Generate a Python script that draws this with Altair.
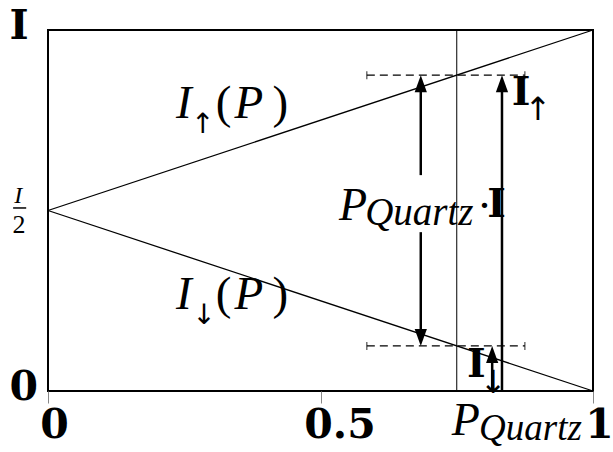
import altair as alt
import pandas as pd

# Degree of polarization P on the x axis, the two spin intensities on y
P = [0.0, 1.0]
I_UP = [0.5, 1.0]
I_DOWN = [0.5, 0.0]

P_QUARTZ = 0.75
I_UP_AT_Q = 0.875
I_DOWN_AT_Q = 0.125

X_TICKS = [0.0, 0.5, 1.0]
X_TICK_LABELS = ["0", "0.5", "1"]
Y_TICKS = [0.0, 1.0]
Y_TICK_LABELS = ["0", "I"]

# Dashed guides at the two intensities read at P_Quartz
DASH_LEVELS = [I_UP_AT_Q, I_DOWN_AT_Q]
DASH_FROM = 0.585
DASH_TO = 0.875

# Arrows: x position, tail, tip
ARROW_X = [0.684, 0.684, 0.833, 0.815]
ARROW_TAIL = [0.598, 0.44, 0.0, 0.0]
ARROW_TIP = [I_UP_AT_Q, I_DOWN_AT_Q, I_UP_AT_Q, I_DOWN_AT_Q]

W, H = 545, 361

XS = alt.Scale(domain=[0, 1], nice=False, zero=False)
YS = alt.Scale(domain=[0, 1], nice=False, zero=False)


def label_expr(values, texts):
    parts = [f"datum.value == {v} ? '{t}'" for v, t in zip(values, texts)]
    return " : ".join(parts) + " : ''"


AX_X = alt.Axis(
    values=X_TICKS, labelExpr=label_expr(X_TICKS, X_TICK_LABELS),
    title=None, domain=False, grid=False, ticks=True, tickSize=12,
    tickColor="#888888", tickWidth=1, labelFont="DejaVu Serif",
    labelFontWeight="bold", labelFontSize=41, labelColor="black",
    labelBaseline="alphabetic", labelAlign="center", labelPadding=34,
    labelOffset={"condition": {"test": "datum.value == 0.5", "value": 19}, "value": 6},
    labelOverlap=False, labelFlush=False)
AX_Y = alt.Axis(
    values=Y_TICKS, labelExpr=label_expr(Y_TICKS, Y_TICK_LABELS),
    title=None, domain=False, grid=False, ticks=False,
    labelFont="DejaVu Serif", labelFontWeight="bold", labelFontSize=41,
    labelColor="black", labelBaseline="alphabetic", labelAlign="left",
    labelPadding=39, labelOffset=8, labelOverlap=False, labelFlush=False)


def X(field):
    return alt.X(field, scale=XS, axis=AX_X)


def Y(field):
    return alt.Y(field, scale=YS, axis=AX_Y)


lines_df = pd.DataFrame({
    "p": P + P,
    "intensity": I_UP + I_DOWN,
    "branch": ["up"] * len(P) + ["down"] * len(P),
})

lines = alt.Chart(lines_df).mark_line(color="black", strokeWidth=1.3).encode(
    x=X("p:Q"), y=Y("intensity:Q"), detail="branch:N",
)

# Vertical marker at P_Quartz, spanning the full intensity range
quartz_df = pd.DataFrame({"p": [P_QUARTZ], "lo": [0.0], "hi": [1.0]})
quartz_rule = alt.Chart(quartz_df).mark_rule(color="black", strokeWidth=1).encode(
    x=X("p:Q"), y=Y("lo:Q"), y2="hi:Q",
)

dash_df = pd.DataFrame({"y": DASH_LEVELS, "x0": [DASH_FROM] * 2, "x1": [DASH_TO] * 2})
dashes = alt.Chart(dash_df).mark_rule(color="black", strokeWidth=1.3,
                                      strokeDash=[8, 5]).encode(
    x=X("x0:Q"), x2="x1:Q", y=Y("y:Q"),
)
cap_df = pd.DataFrame({"x": [DASH_FROM, DASH_TO] * 2,
                       "y": [DASH_LEVELS[0]] * 2 + [DASH_LEVELS[1]] * 2})
caps = alt.Chart(cap_df).mark_tick(color="black", orient="vertical", size=8,
                                   thickness=1.2).encode(
    x=X("x:Q"), y=Y("y:Q"),
)

arrow_df = pd.DataFrame({"x": ARROW_X, "tail": ARROW_TAIL, "tip": ARROW_TIP})
arrow_df["dir"] = ["up" if t > s else "down" for s, t in zip(ARROW_TAIL, ARROW_TIP)]

UP_HEAD = "M0,0L-0.36,1L0.36,1Z"
DOWN_HEAD = "M0,0L-0.36,-1L0.36,-1Z"


def shafts(direction, offset):
    return alt.Chart(arrow_df).transform_filter(
        alt.datum.dir == direction).mark_rule(
        color="black", strokeWidth=2.5, y2Offset=offset).encode(
        x=X("x:Q"), y=Y("tail:Q"), y2="tip:Q",
    )


heads = alt.Chart(arrow_df).mark_point(filled=True, color="black", opacity=1,
                                       size=1156, strokeWidth=0).encode(
    x=X("x:Q"), y=Y("tip:Q"),
    shape=alt.Shape("dir:N", scale=alt.Scale(domain=["up", "down"],
                                             range=[UP_HEAD, DOWN_HEAD]),
                    legend=None),
)

# Annotation text, grouped by typeface: (text, x, y, size)
ITALIC = [
    ("I", 0.235, 0.756, 47), ("P", 0.342, 0.756, 47),
    ("I", 0.235, 0.227, 47), ("P", 0.342, 0.227, 47),
    ("P", 0.534, 0.474, 46), ("Quartz", 0.582, 0.460, 39),
    ("P", 0.741, -0.122, 46), ("Quartz", 0.791, -0.136, 37),
    ("I", -0.062, 0.521, 24),
]
ROMAN = [
    ("(", 0.308, 0.756, 47), (")", 0.412, 0.756, 47),
    ("(", 0.308, 0.227, 47), (")", 0.412, 0.227, 47),
    ("\u00b7", 0.787, 0.474, 45), ("2", -0.065, 0.438, 26),
]
BOLD = [
    ("I", 0.806, 0.482, 40), ("I", 0.851, 0.792, 40), ("I", 0.769, 0.039, 40),
]
ARROWS = [
    ("\u2191", 0.284, 0.714, 28), ("\u2193", 0.286, 0.186, 28),
    ("\u2191", 0.899, 0.750, 32), ("\u2193", 0.817, -0.005, 32),
]


def texts(rows, align="left", **style):
    df = pd.DataFrame(rows, columns=["t", "x", "y", "size"])
    return alt.Chart(df).mark_text(align=align, baseline="alphabetic",
                                   color="black", **style).encode(
        x=X("x:Q"), y=Y("y:Q"),
        text="t:N",
        size=alt.Size("size:Q", scale=None, legend=None),
    )


italic = texts(ITALIC, font="Liberation Serif", fontStyle="italic")
roman = texts(ROMAN, font="Liberation Serif")
bold = texts(BOLD, font="DejaVu Serif", fontWeight="bold")
arrow_glyphs = texts(ARROWS, align="center", font="DejaVu Sans")

# Fraction bar of I/2 beside the y axis
frac_df = pd.DataFrame({"x0": [-0.064], "x1": [-0.040], "y": [0.507]})
frac_bar = alt.Chart(frac_df).mark_rule(color="black", strokeWidth=1.5).encode(
    x=X("x0:Q"), x2="x1:Q", y=Y("y:Q"),
)

chart = alt.layer(
    lines, quartz_rule, dashes, caps,
    shafts("up", 8), shafts("down", -8), heads,
    italic, roman, bold, arrow_glyphs, frac_bar,
).properties(
    width=W, height=H,
    autosize=alt.AutoSizeParams(type="none"),
    padding={"left": 48, "top": 30, "right": 20, "bottom": 61},
    background="white",
).configure_view(stroke="black", strokeWidth=2)

chart.save("out.html", embed_options={"renderer": "svg", "actions": False})
